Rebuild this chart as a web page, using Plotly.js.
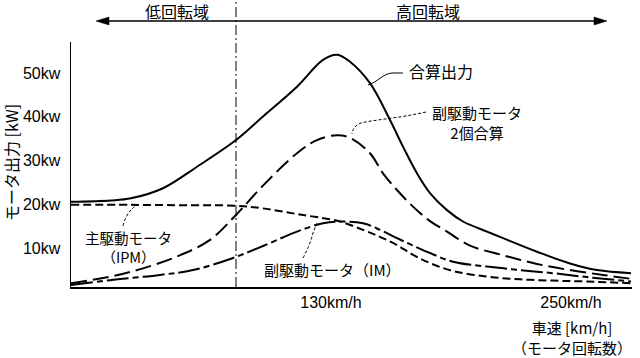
<!DOCTYPE html>
<html><head><meta charset="utf-8">
<script src="https://cdn.plot.ly/plotly-3.0.1.min.js"></script>
<style>html,body{margin:0;padding:0;background:#fff}</style>
</head><body><div id="c" style="width:640px;height:358px"></div>
<script>
// ---- data (km/h, kW) ----
const totalSpeed = [0, 20, 30, 46, 63, 82.5, 96, 113, 126, 133, 139.5, 149.5, 159.5, 166, 173, 179.5, 188, 196, 208, 216, 233, 249.5, 263, 280];
const totalPower = [20.6, 20.9, 21.4, 23.7, 28.6, 34.7, 40.1, 46.9, 53.0, 54.2, 52.6, 47.7, 39.3, 33.2, 27.1, 22.6, 18.7, 16.1, 13.8, 12.3, 9.2, 6.5, 5.0, 4.3];

const sub2Speed = [0, 19.5, 36, 53, 69.5, 82.5, 96, 113, 123, 133, 139.5, 149.5, 156, 163, 171, 179.5, 188, 199.5, 216, 233, 249.5, 266, 280];
const sub2Power = [2.0, 3.5, 5.4, 8.1, 11.9, 17.6, 24.3, 31.7, 34.7, 35.8, 35.2, 31.7, 27.1, 23.3, 19.5, 16.2, 13.8, 10.6, 8.4, 6.4, 5.0, 3.9, 3.0];

const ipmSpeed = [0, 30, 60, 82.5, 96, 113, 129.5, 134.5, 146, 154.5, 163, 171, 179.5, 191, 208, 224.5, 241, 258, 280];
const ipmPower = [19.9, 19.9, 19.8, 19.7, 19.1, 17.8, 16.6, 16.1, 14.2, 12.6, 10.7, 8.5, 6.6, 4.8, 3.5, 2.9, 2.6, 2.4, 2.0];

const imSpeed = [0, 19.5, 44.5, 61, 80, 96, 113, 126, 134.5, 146, 154.5, 163, 171, 179.5, 191, 208, 224.5, 241, 258, 280];
const imPower = [1.6, 2.7, 3.9, 5.0, 7.6, 10.5, 13.8, 15.7, 16.1, 15.7, 14.2, 12.3, 10.6, 8.9, 6.9, 5.8, 5.0, 4.3, 3.4, 2.4];

const yTickVals = [10, 20, 30, 40, 50];
const yTickText = ['10kw', '20kw', '30kw', '40kw', '50kw'];
const xTickVals = [130, 250];
const xTickText = ['130km/h', '250km/h'];
const boundarySpeed = 82.5;

// ---- layout helpers ----
const L = 71, R = 632, T = 42, B = 287;
const px = x => (x - L) / (R - L);
const py = y => (B - y) / (B - T);
function path(cmds) {
  return cmds.map(c => c[0] + ' ' + c.slice(1).reduce((a, v, i) => {
    a.push(i % 2 === 0 ? px(v).toFixed(5) : py(v).toFixed(5)); return a;
  }, []).join(' ')).join(' ');
}
const JP = '"Noto Sans CJK JP", sans-serif';
const LAT = '"Liberation Sans", Arial, sans-serif';

const line = (x, y, dash) => ({
  x: x, y: y, type: 'scatter', mode: 'lines',
  line: {color: '#000', width: 2, dash: dash, shape: 'spline', smoothing: 1},
  hoverinfo: 'skip', showlegend: false
});

const data = [
  line(totalSpeed, totalPower, 'solid'),
  line(sub2Speed, sub2Power, '16px,6px'),
  line(ipmSpeed, ipmPower, '8px,4px'),
  line(imSpeed, imPower, '22px,4px,6px,4px')
];

function ann(text, x, y, size, extra) {
  return Object.assign({text: text, xref: 'paper', yref: 'paper', x: px(x), y: py(y),
    xanchor: 'center', yanchor: 'middle', align: 'center', showarrow: false, borderpad: 0,
    font: {family: JP, size: size, color: '#000'}}, extra || {});
}

const annotations = [
  ann('低回転域', 177, 11, 16),
  ann('高回転域', 428, 11, 16),
  ann('モータ出力 [kW]', 11, 163, 16, {textangle: -90}),
  ann('合算出力', 441, 71, 16),
  ann('副駆動モータ<br>2個合算', 477, 122, 15),
  ann('主駆動モータ<br>（IPM）', 128, 246.5, 14.5),
  ann('副駆動モータ（IM）', 332, 269, 15),
  ann('車速 [km/h]<br>（モータ回転数）', 572, 337, 15)
];

const thin = {color: '#000', width: 1};
const shapes = [
  {type: 'line', xref: 'x', yref: 'paper', x0: boundarySpeed, x1: boundarySpeed, y0: 0, y1: py(0),
   line: {color: '#000', width: 1, dash: '10px,3px,2px,3px'}},
  {type: 'line', xref: 'paper', yref: 'paper', x0: px(104), x1: px(600), y0: py(21), y1: py(21), line: {color: '#000', width: 1.5}},
  {type: 'path', xref: 'paper', yref: 'paper', path: path([['M', 96, 21], ['L', 109, 17], ['L', 109, 25], ['Z']]), fillcolor: '#000', line: {color: '#000', width: 0.5}},
  {type: 'path', xref: 'paper', yref: 'paper', path: path([['M', 607, 21], ['L', 594, 17], ['L', 594, 25], ['Z']]), fillcolor: '#000', line: {color: '#000', width: 0.5}},
  {type: 'path', xref: 'paper', yref: 'paper', path: path([['M', 368, 85], ['C', 378, 82, 382, 74, 392, 73], ['L', 403, 73]]), line: thin},
  {type: 'path', xref: 'paper', yref: 'paper', path: path([['M', 426, 112], ['C', 400, 118, 372, 120, 361, 123], ['Q', 353, 126, 352, 134]]), line: {color: '#000', width: 1, dash: '3px,2px'}},
  {type: 'path', xref: 'paper', yref: 'paper', path: path([['M', 123, 226], ['Q', 126, 212, 137, 205]]), line: {color: '#000', width: 1, dash: '3px,2px'}},
  {type: 'path', xref: 'paper', yref: 'paper', path: path([['M', 303, 258], ['Q', 310, 245, 313, 233], ['L', 317, 223]]), line: {color: '#000', width: 1, dash: '3px,2px'}}
];

const layout = {
  width: 640, height: 358,
  margin: {l: L, r: 640 - R, t: T, b: 358 - B, pad: 0},
  paper_bgcolor: '#fff', plot_bgcolor: '#fff',
  showlegend: false,
  xaxis: {range: [0, 280.5], showline: true, linecolor: '#000', linewidth: 1.5, showgrid: false, zeroline: false,
    tickvals: xTickVals, ticktext: xTickText, ticks: '', ticklabelstandoff: 0,
    tickfont: {family: LAT, size: 16, color: '#000'}, fixedrange: true},
  yaxis: {range: [1.14, 57.1], showline: true, linecolor: '#000', linewidth: 1.5, showgrid: false, zeroline: false,
    tickvals: yTickVals, ticktext: yTickText, ticks: '', ticklabelstandoff: 6,
    tickfont: {family: LAT, size: 16, color: '#000'}, fixedrange: true},
  annotations: annotations,
  shapes: shapes
};

Plotly.newPlot('c', data, layout, {staticPlot: true, displayModeBar: false});
</script></body></html>
